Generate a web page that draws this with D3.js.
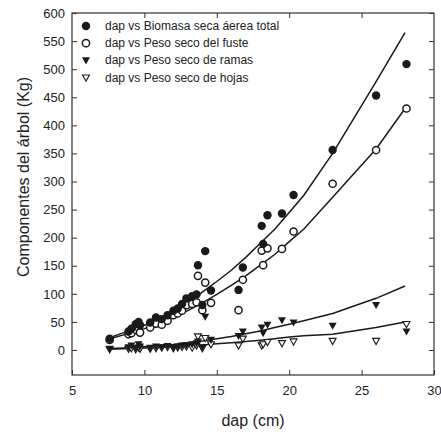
<!DOCTYPE html>
<html><head><meta charset="utf-8">
<script src="https://cdn.jsdelivr.net/npm/d3@7"></script>
<style>body{margin:0;background:#fff}svg{display:block}text{font-family:"Liberation Sans",Arial,sans-serif;fill:#222}</style>
</head><body><svg id="c" width="441" height="438"></svg>
<script>
// data
const dap      = [7.6, 8.9, 9.1, 9.4, 9.6, 9.7, 10.4, 10.8, 11.2, 11.6, 12.0, 12.3, 12.6, 12.9, 13.3, 13.6, 13.7, 14.0, 14.2, 14.6, 16.5, 16.8, 18.1, 18.2, 18.5, 19.5, 20.3, 23.0, 26.0, 28.1];
const biomasa  = [20, 33, 38, 46, 50, 44, 49, 58, 55, 62, 70, 74, 82, 92, 96, 99, 151, 80, 176, 106, 107, 147, 221, 189, 240, 243, 276, 356, 453, 509];
const fuste    = [18, 28, 30, 36, 40, 31, 40, 47, 45, 52, 62, 65, 70, 80, 82, 85, 132, 71, 120, 84, 71, 125, 177, 151, 181, 180, 211, 296, 356, 430];
const ramas    = [2, 5, 8, 3, 10, 6, 4, 6, 5, 7, 4, 6, 8, 9, 10, 12, 15, 5, 59, 18, 25, 33, 40, 30, 45, 53, 49, 43, 80, 33];
const hojas    = [1, 2, 3, 1, 4, 2, 2, 3, 4, 5, 3, 4, 5, 6, 4, 8, 24, 3, 21, 10, 8, 20, 8, 10, 14, 12, 15, 16, 16, 46];
// fitted curves
const fitDap     = [7.6, 9, 10, 11, 12, 13, 14, 15, 16, 17, 18, 19, 20, 21, 23, 26, 28];
const fitBiomasa = [22, 35, 44, 56, 70, 85, 103, 122, 142, 165, 190, 215, 245, 275, 350, 478, 565];
const fitFuste   = [20, 30, 38, 47, 58, 70, 84, 99, 115, 132, 151, 170, 193, 215, 272, 358, 430];
const fitRamas   = [2.5, 4, 6, 8, 10, 13, 16, 20, 24, 29, 34, 40, 46, 52, 65, 92, 114];
const fitHojas   = [1.5, 2.5, 3.5, 4.5, 6, 7.5, 9, 11, 13, 15, 17.5, 20, 23, 25.5, 28, 40, 50];
const legendLabels = ["dap vs Biomasa seca áerea total","dap vs Peso seco del fuste","dap vs Peso seco de ramas","dap vs Peso seco de hojas"];
const xTicks = [5,10,15,20,25,30];
const yTicks = [0,50,100,150,200,250,300,350,400,450,500,550,600];

const svg = d3.select("#c");
const L=72, R=434, T=13, B=375;
const x = d3.scaleLinear().domain([5,30]).range([L,R]);
const y = d3.scaleLinear().domain([-44.5,600]).range([B,T]);
const ink="#1a1a1a";

// frame & axes
svg.append("rect").attr("x",L).attr("y",T).attr("width",R-L).attr("height",B-T).attr("fill","none").attr("stroke","#333").attr("stroke-width",1.2);
function styleAxis(g){g.select(".domain").remove();g.selectAll("line").attr("stroke","#333").attr("stroke-width",1);g.selectAll("text").style("font-size","13px").attr("fill","#222").style("font-family","'Liberation Sans',Arial,sans-serif");}
svg.append("g").attr("transform",`translate(0,${B})`).call(d3.axisBottom(x).tickValues(xTicks).tickSize(-5).tickPadding(11).tickFormat(d3.format("d"))).call(styleAxis);
svg.append("g").attr("transform",`translate(0,${T})`).call(d3.axisTop(x).tickValues(xTicks.slice(1,-1)).tickSize(-5).tickFormat("")).call(styleAxis);
svg.append("g").attr("transform",`translate(${L},0)`).call(d3.axisLeft(y).tickValues(yTicks).tickSize(-5).tickPadding(7).tickFormat(d3.format("d"))).call(styleAxis);
svg.append("g").attr("transform",`translate(${R},0)`).call(d3.axisRight(y).tickValues(yTicks).tickSize(-5).tickFormat("")).call(styleAxis);

// titles
svg.append("text").attr("x",(L+R)/2).attr("y",426).attr("text-anchor","middle").style("font-size","16px").text("dap (cm)");
svg.append("text").attr("transform",`translate(29,177) rotate(-90)`).attr("text-anchor","middle").style("font-size","16px").text("Componentes del árbol (Kg)");

// fitted lines
const line = d3.line().x(d=>x(d[0])).y(d=>y(d[1]));
[fitBiomasa,fitFuste,fitRamas,fitHojas].forEach(f=>{
  svg.append("path").datum(fitDap.map((d,i)=>[d,f[i]])).attr("d",line).attr("fill","none").attr("stroke",ink).attr("stroke-width",1.5);
});

// markers
const triType = {draw(ctx,size){const s=Math.sqrt(size);ctx.moveTo(-s/2,-s*0.38);ctx.lineTo(s/2,-s*0.38);ctx.lineTo(0,s*0.5);ctx.closePath();}};
function drawSeries(vals,kind){
  const g=svg.append("g");
  vals.forEach((v,i)=>drawMarker(g,x(dap[i]),y(v),kind));
}
function drawMarker(g,cx,cy,kind){
  if(kind==="fc") g.append("circle").attr("cx",cx).attr("cy",cy).attr("r",4.2).attr("fill",ink);
  else if(kind==="oc") g.append("circle").attr("cx",cx).attr("cy",cy).attr("r",3.6).attr("fill","#fff").attr("stroke",ink).attr("stroke-width",1.5);
  else if(kind==="ft") g.append("path").attr("d",d3.symbol().type(triType).size(64)()).attr("transform",`translate(${cx},${cy})`).attr("fill",ink);
  else g.append("path").attr("d",d3.symbol().type(triType).size(49)()).attr("transform",`translate(${cx},${cy})`).attr("fill","#fff").attr("stroke",ink).attr("stroke-width",1.1);
}
drawSeries(hojas,"ot");
drawSeries(ramas,"ft");
drawSeries(fuste,"oc");
drawSeries(biomasa,"fc");

// legend
const kinds=["fc","oc","ft","ot"];
const lg=svg.append("g");
legendLabels.forEach((t,i)=>{
  const yy=26+i*17.2;
  drawMarker(lg,86,yy,kinds[i]);
  lg.append("text").attr("x",105).attr("y",yy+4).style("font-size","12px").text(t);
});
</script></body></html>
